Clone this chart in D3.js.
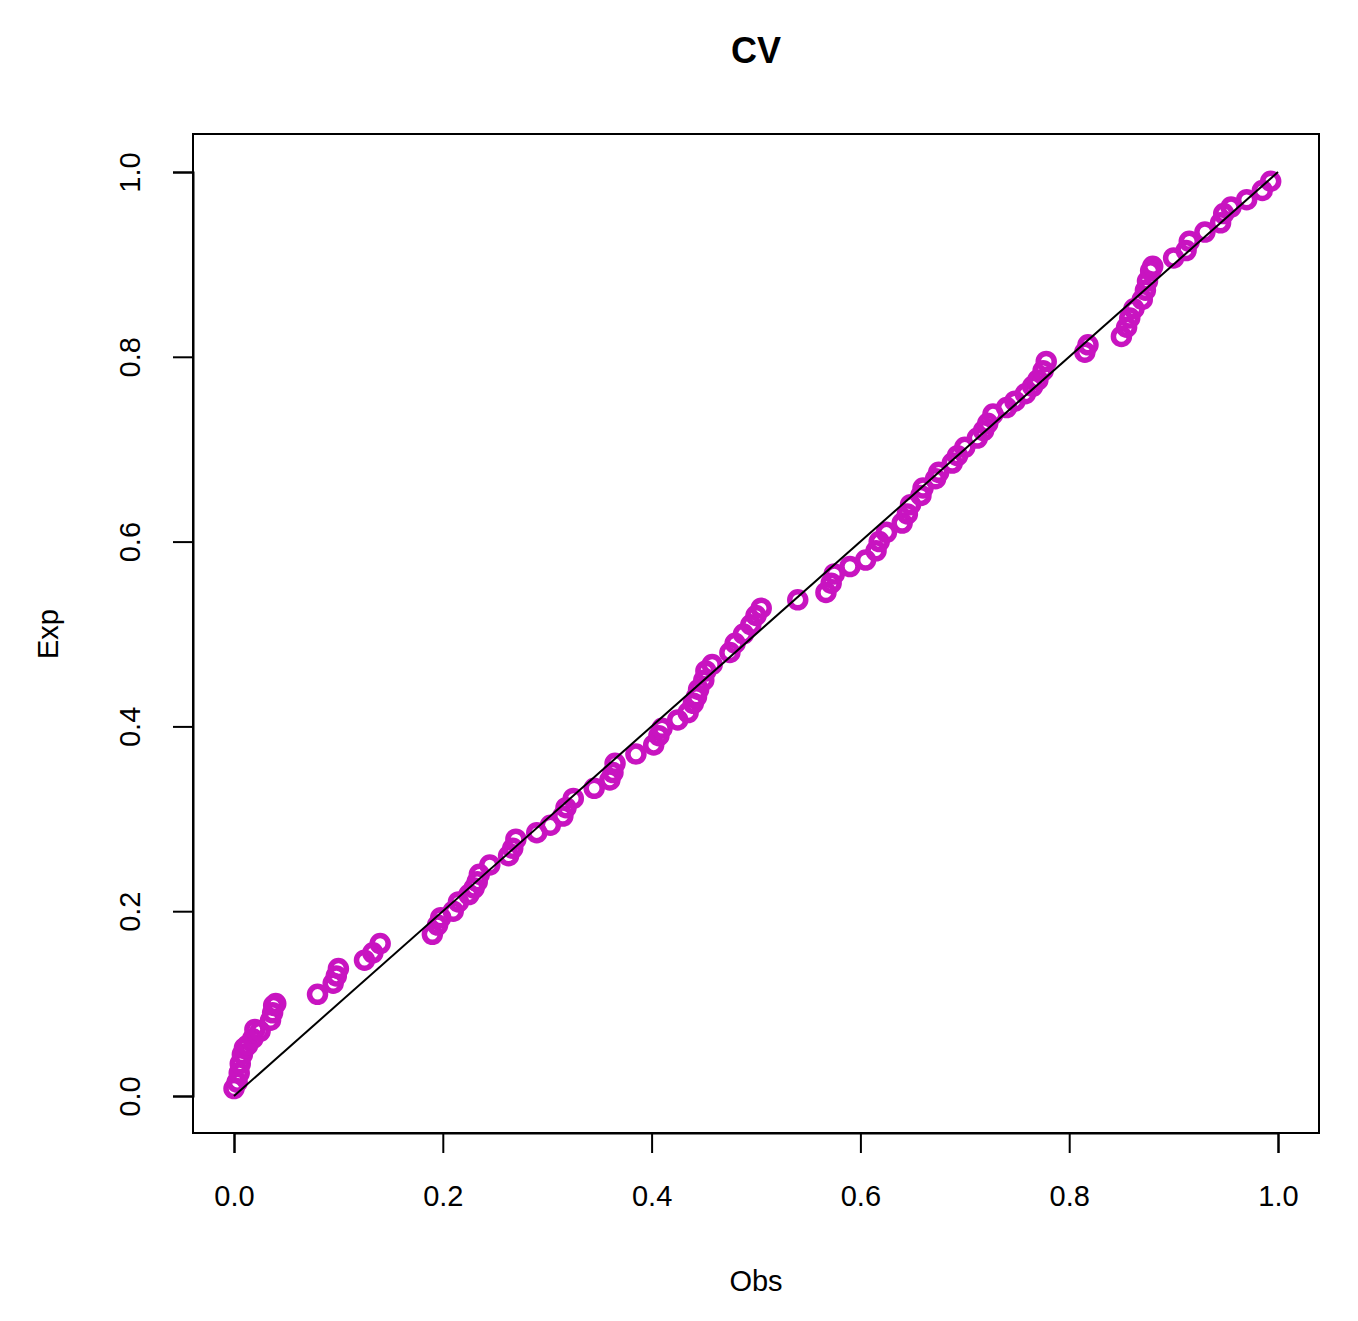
<!DOCTYPE html>
<html><head><meta charset="utf-8">
<script src="https://cdn.jsdelivr.net/npm/d3@7"></script>
<style>body{margin:0;background:#fff}</style>
</head><body><div id="chart"></div>
<script>
const obs = [0.000,0.003,0.005,0.006,0.008,0.010,0.013,0.018,0.020,0.025,0.035,0.037,0.038,0.040,0.080,0.095,0.098,0.100,0.125,0.133,0.140,0.190,0.195,0.198,0.210,0.215,0.225,0.230,0.233,0.235,0.245,0.263,0.267,0.270,0.290,0.303,0.315,0.318,0.325,0.345,0.360,0.363,0.365,0.385,0.402,0.407,0.410,0.425,0.435,0.440,0.443,0.445,0.450,0.452,0.458,0.475,0.480,0.488,0.495,0.500,0.505,0.540,0.567,0.572,0.575,0.590,0.605,0.615,0.618,0.625,0.640,0.645,0.648,0.658,0.660,0.672,0.675,0.688,0.693,0.700,0.712,0.718,0.722,0.727,0.740,0.748,0.758,0.765,0.770,0.775,0.778,0.815,0.818,0.850,0.855,0.858,0.862,0.870,0.873,0.875,0.878,0.880,0.900,0.912,0.915,0.930,0.945,0.948,0.955,0.970,0.985,0.993];
const expd = [0.008,0.015,0.025,0.035,0.045,0.052,0.055,0.062,0.072,0.070,0.082,0.090,0.098,0.100,0.110,0.122,0.130,0.138,0.147,0.155,0.165,0.175,0.185,0.193,0.200,0.210,0.218,0.225,0.232,0.240,0.250,0.260,0.268,0.278,0.285,0.293,0.303,0.312,0.322,0.333,0.342,0.350,0.360,0.370,0.380,0.390,0.398,0.407,0.415,0.425,0.432,0.440,0.450,0.460,0.467,0.480,0.490,0.500,0.510,0.520,0.528,0.537,0.545,0.555,0.565,0.573,0.580,0.590,0.600,0.610,0.620,0.630,0.640,0.650,0.658,0.668,0.675,0.685,0.693,0.702,0.712,0.720,0.728,0.738,0.745,0.752,0.760,0.768,0.775,0.785,0.795,0.805,0.813,0.822,0.832,0.842,0.852,0.862,0.872,0.882,0.893,0.898,0.907,0.915,0.925,0.935,0.945,0.955,0.962,0.970,0.980,0.990];
const ticks = [0, 0.2, 0.4, 0.6, 0.8, 1.0];

const width = 1358, height = 1321;
const font = "'Liberation Sans', Arial, sans-serif";

const x = d3.scaleLinear().domain([0, 1]).range([234, 1278]);
const y = d3.scaleLinear().domain([0, 1]).range([1096, 172]);

const svg = d3.select("#chart").append("svg")
    .attr("width", width).attr("height", height)
    .style("font-family", font);

// plot box
svg.append("rect")
    .attr("x", 193).attr("y", 134).attr("width", 1126).attr("height", 999)
    .attr("fill", "none").attr("stroke", "#000").attr("stroke-width", 2);

// axes
const xAxis = svg.append("g")
    .attr("transform", "translate(0,1133)")
    .call(d3.axisBottom(x).tickValues(ticks).tickFormat(d3.format(".1f")).tickSize(20).tickPadding(32));
const yAxis = svg.append("g")
    .attr("transform", "translate(193,0)")
    .call(d3.axisLeft(y).tickValues(ticks).tickFormat(d3.format(".1f")).tickSize(20).tickPadding(14));
[xAxis, yAxis].forEach(g => {
  g.selectAll("path,line").attr("stroke", "#000").attr("stroke-width", 2);
  g.selectAll("text").attr("font-size", 29).attr("font-family", font).attr("fill", "#000");
});
yAxis.selectAll(".tick text")
    .attr("transform", "rotate(-90)")
    .attr("x", 0).attr("y", -53).attr("dy", "0")
    .attr("text-anchor", "middle");

// points
svg.append("g").selectAll("circle")
    .data(obs.map((o, i) => ({o, e: expd[i]})))
    .join("circle")
    .attr("cx", d => x(d.o)).attr("cy", d => y(d.e)).attr("r", 8)
    .attr("fill", "none").attr("stroke", "#C814C0").attr("stroke-width", 5.5);

// identity line
svg.append("line")
    .attr("x1", x(0)).attr("y1", y(0)).attr("x2", x(1)).attr("y2", y(1))
    .attr("stroke", "#000").attr("stroke-width", 2);

// labels
svg.append("text").attr("x", 756).attr("y", 63).attr("text-anchor", "middle")
    .attr("font-size", 36).attr("font-weight", "bold").text("CV");
svg.append("text").attr("x", 756).attr("y", 1291).attr("text-anchor", "middle")
    .attr("font-size", 29).text("Obs");
svg.append("text").attr("transform", "translate(58,634) rotate(-90)").attr("text-anchor", "middle")
    .attr("font-size", 29).text("Exp");
</script></body></html>
